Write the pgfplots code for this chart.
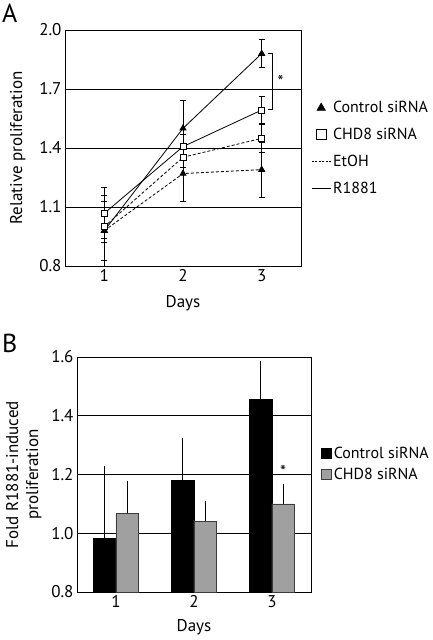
\documentclass[border=0pt]{standalone}
\usepackage{fontspec}
\setmainfont{PT Sans}
\usepackage{pgfplots}
\pgfplotsset{compat=1.18}
\usepackage{pgfplotstable}
\definecolor{barg}{RGB}{160,160,160}
\definecolor{barge}{RGB}{60,60,60}

\pgfplotstableread{
x y e
1 0.98 0.18
2 1.50 0.14
3 1.88 0.07
}\ctrlR
\pgfplotstableread{
x y e
1 0.98 0.15
2 1.27 0.14
3 1.29 0.14
}\ctrlE
\pgfplotstableread{
x y e
1 1.068 0.13
2 1.407 0.06
3 1.593 0.07
}\chdR
\pgfplotstableread{
x y e
1 1.00 0.08
2 1.353 0.05
3 1.449 0.07
}\chdE
\pgfplotstableread{
x c ce h he
1 0.983 0.246 1.068 0.111
2 1.181 0.144 1.041 0.068
3 1.456 0.131 1.100 0.066
}\barB

\newcommand{\fs}{\fontsize{17}{20}\selectfont}
\newcommand{\fl}{\fontsize{16}{19}\selectfont}

\begin{document}
\begin{tikzpicture}
\path[use as bounding box] (0pt,0pt) rectangle (433pt,-640pt);
\node[anchor=north west, font=\fontsize{26}{28}\selectfont, inner sep=0pt] at (2pt,-4pt) {A};
\node[anchor=north west, font=\fontsize{26}{28}\selectfont, inner sep=0pt] at (2pt,-334pt) {B};

\begin{axis}[
  at={(65pt,-266pt)}, anchor=south west, scale only axis,
  width=236pt, height=236pt,
  xmin=0.5, xmax=3.5, ymin=0.8, ymax=2.0,
  xtick={1,2,3}, ytick={0.8,1.1,1.4,1.7,2.0},
  yticklabel style={/pgf/number format/fixed, /pgf/number format/fixed zerofill, /pgf/number format/precision=1},
  /pgf/number format/assume math mode=true,
  ymajorgrids, grid style={black, line width=0.8pt},
  major tick length=0pt,
  axis line style={line width=0.8pt},
  tick label style={font=\fs},
  label style={font=\fs},
  xlabel={Days}, ylabel={Relative proliferation},
  xlabel shift=7pt, ylabel shift=7pt,
  clip=false,
  legend style={at={(1.03,0.715)}, anchor=north west, draw=none, fill=none, font=\fl, row sep=10pt},
  legend cell align=left,
]
\addplot[forget plot, black, line width=0.8pt, dash pattern=on 3pt off 2pt, mark=triangle*, mark options={solid, fill=black, mark size=3.5pt},
  error bars/.cd, y dir=both, y explicit, error bar style={solid, line width=0.8pt}, error mark options={rotate=90, mark size=3pt, line width=0.8pt}]
  table[x=x, y=y, y error=e] {\ctrlE};
\addplot[forget plot, black, line width=0.8pt, mark=triangle*, mark options={solid, fill=black, mark size=3.5pt},
  error bars/.cd, y dir=both, y explicit, error bar style={solid, line width=0.8pt}, error mark options={rotate=90, mark size=3pt, line width=0.8pt}]
  table[x=x, y=y, y error=e] {\ctrlR};
\addplot[forget plot, black, line width=0.8pt, dash pattern=on 3pt off 2pt, mark=square*, mark options={solid, fill=white, mark size=3pt},
  error bars/.cd, y dir=both, y explicit, error bar style={solid, line width=0.8pt}, error mark options={rotate=90, mark size=3pt, line width=0.8pt}]
  table[x=x, y=y, y error=e] {\chdE};
\addplot[forget plot, black, line width=0.8pt, mark=square*, mark options={solid, fill=white, mark size=3pt},
  error bars/.cd, y dir=both, y explicit, error bar style={solid, line width=0.8pt}, error mark options={rotate=90, mark size=3pt, line width=0.8pt}]
  table[x=x, y=y, y error=e] {\chdR};
\draw[line width=0.8pt] (axis cs:3.08,1.88) -- (axis cs:3.14,1.88) -- (axis cs:3.14,1.595) -- (axis cs:3.08,1.595);
\node[font=\fs] at (axis cs:3.24,1.74) {*};
\addlegendimage{legend image code/.code={\draw[black, fill=black] plot[mark=triangle*, mark size=5pt] coordinates {(9.5pt,0pt)};}}
\addlegendentry{Control siRNA}
\addlegendimage{legend image code/.code={\draw[black, fill=white, line width=0.8pt] plot[mark=square*, mark size=5pt] coordinates {(9.5pt,0pt)};}}
\addlegendentry{CHD8 siRNA}
\addlegendimage{legend image code/.code={\draw[black, line width=0.8pt, dash pattern=on 2pt off 1.5pt] (0pt,0pt) -- (19pt,0pt);}}
\addlegendentry{EtOH}
\addlegendimage{legend image code/.code={\draw[black, line width=0.8pt] (0pt,0pt) -- (19pt,0pt);}}
\addlegendentry{R1881}
\end{axis}

\begin{axis}[
  at={(77pt,-592pt)}, anchor=south west, scale only axis,
  width=234pt, height=235pt,
  xmin=0.5, xmax=3.5, ymin=0.8, ymax=1.6,
  xtick={1,2,3}, ytick={0.8,1.0,1.2,1.4,1.6},
  yticklabel style={/pgf/number format/fixed, /pgf/number format/fixed zerofill, /pgf/number format/precision=1},
  /pgf/number format/assume math mode=true,
  ymajorgrids, grid style={black, line width=0.8pt},
  major tick length=0pt,
  axis line style={line width=0.8pt},
  tick label style={font=\fs},
  label style={font=\fs},
  xlabel={Days}, ylabel={Fold R1881-induced\\proliferation},
  xlabel shift=5pt, ylabel shift=3pt,
  ylabel style={align=center},
  clip=false,
  legend style={at={(1.03,0.635)}, anchor=north west, draw=none, fill=none, font=\fl, row sep=4pt},
  legend cell align=left,
]
\addplot[forget plot, ybar, bar width=22.5pt, bar shift=0pt, fill=black, draw=black, line width=0.6pt,
  error bars/.cd, y dir=plus, y explicit, error mark=none, error bar style={line width=1pt, black}]
  table[x expr=\thisrow{x}-0.1433, y=c, y error=ce] {\barB};
\addplot[forget plot, ybar, bar width=22.5pt, bar shift=0pt, fill=barg, draw=barge, line width=0.6pt,
  error bars/.cd, y dir=plus, y explicit, error mark=none, error bar style={line width=1pt, black}]
  table[x expr=\thisrow{x}+0.1433, y=h, y error=he] {\barB};
\node[font=\fs] at (axis cs:3.143,1.21) {*};
\addlegendimage{legend image code/.code={\draw[black, fill=black, line width=0.6pt] (0pt,-5pt) rectangle (10pt,5pt);}}
\addlegendentry{Control siRNA}
\addlegendimage{legend image code/.code={\draw[barge, fill=barg, line width=0.6pt] (0pt,-5pt) rectangle (10pt,5pt);}}
\addlegendentry{CHD8 siRNA}
\end{axis}
\end{tikzpicture}
\end{document}
